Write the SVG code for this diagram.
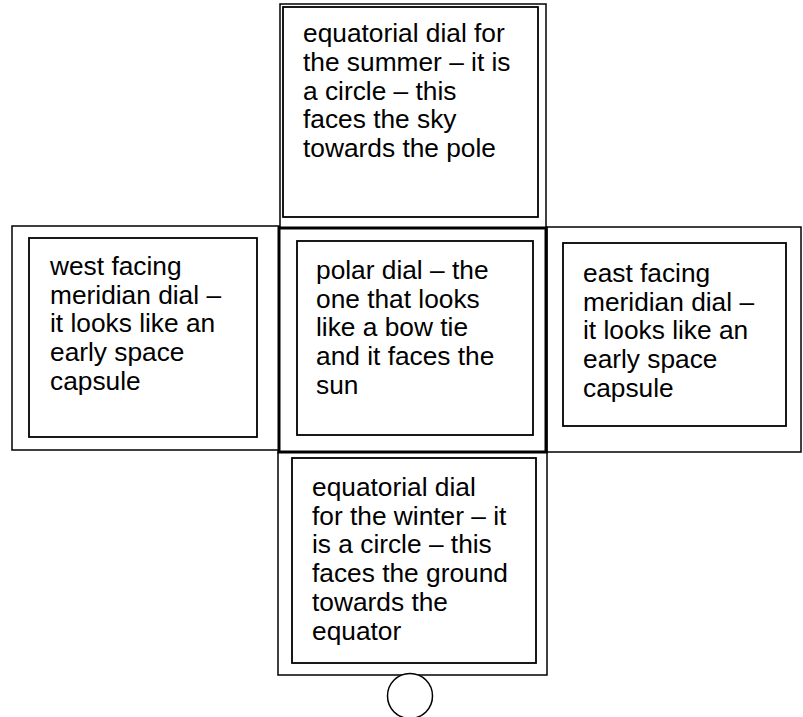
<svg xmlns="http://www.w3.org/2000/svg" width="803" height="717" viewBox="0 0 803 717">
<style>
.o{fill:none;stroke:#000;stroke-width:1.5}
.t{fill:none;stroke:#000;stroke-width:3}
.i{fill:none;stroke:#000;stroke-width:1.8}
text{font-family:"Liberation Sans",Arial,sans-serif;font-size:26.3px;fill:#000}
</style>
<rect width="803" height="717" fill="#fff"/>
<g id="top">
<rect class="o" x="280" y="4" width="266" height="224" stroke="#333"/>
<rect class="i" x="283" y="7" width="255" height="210" stroke="#333"/>
<text x="303" y="42">equatorial dial for</text>
<text x="303" y="71">the summer – it is</text>
<text x="303" y="99.7">a circle – this</text>
<text x="303" y="128.4">faces the sky</text>
<text x="303" y="157.1">towards the pole</text>
</g>
<g id="west">
<rect class="o" x="12" y="226" width="267" height="224"/>
<rect class="i" x="29" y="238" width="228" height="199"/>
<text x="50" y="275">west facing</text>
<text x="50" y="303.7">meridian dial –</text>
<text x="50" y="332.4">it looks like an</text>
<text x="50" y="361.1">early space</text>
<text x="50" y="389.8">capsule</text>
</g>
<g id="center">
<rect class="t" x="279" y="228" width="267" height="224"/>
<rect class="i" x="297" y="241" width="236" height="194"/>
<text x="316" y="279">polar dial – the</text>
<text x="316" y="307.7">one that looks</text>
<text x="316" y="336.4">like a bow tie</text>
<text x="316" y="365.1">and it faces the</text>
<text x="316" y="393.8">sun</text>
</g>
<g id="east">
<rect class="o" x="547" y="227" width="254" height="225"/>
<rect class="i" x="563" y="243" width="223" height="183"/>
<text x="583" y="282">east facing</text>
<text x="583" y="310.7">meridian dial –</text>
<text x="583" y="339.4">it looks like an</text>
<text x="583" y="368.1">early space</text>
<text x="583" y="396.8">capsule</text>
</g>
<g id="bottom">
<rect class="o" x="278" y="452" width="269" height="223"/>
<rect class="i" x="292" y="458" width="244" height="205"/>
<text x="312" y="496">equatorial dial</text>
<text x="312" y="524.7">for the winter – it</text>
<text x="312" y="553.4">is a circle – this</text>
<text x="312" y="582.1">faces the ground</text>
<text x="312" y="610.8">towards the</text>
<text x="312" y="639.5">equator</text>
</g>
<g id="knob">
<circle cx="410" cy="696" r="22.5" fill="#fff" stroke="#000" stroke-width="1.5"/>
</g>
<g id="connectors"></g>
</svg>
